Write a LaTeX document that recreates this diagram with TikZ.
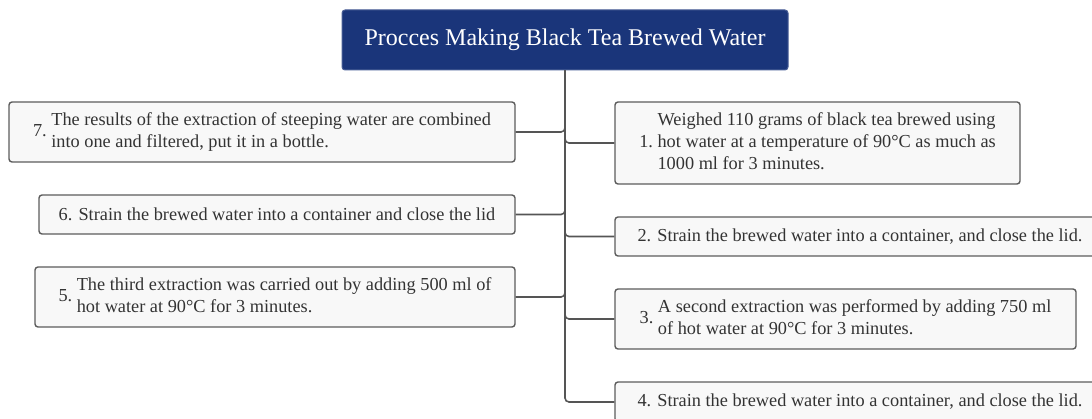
\documentclass[tikz,border=0pt]{standalone}
\usepackage{fontspec}
\setmainfont{Liberation Serif}
\usetikzlibrary{positioning}
\definecolor{titleblue}{HTML}{1A357A}
\definecolor{boxfill}{HTML}{F8F8F8}
\definecolor{boxline}{HTML}{5C5C5C}
\definecolor{linkgray}{HTML}{555555}
\definecolor{textgray}{HTML}{333333}
% number beside a block of lines, centred on it
\newcommand{\numitem}[2]{#1\ \begin{tabular}[c]{@{}l@{}}#2\end{tabular}}
\tikzset{
  titlebox/.style={draw=titleblue!80!white, fill=titleblue, text=white,
    rounded corners=3pt, line width=1pt, font=\fontsize{24}{28}\selectfont,
    minimum height=60, inner sep=0pt},
  stepbox/.style={draw=boxline, fill=boxfill, text=textgray,
    rounded corners=3pt, line width=1.4pt, font=\fontsize{18.3}{22}\selectfont,
    inner sep=0pt, align=left},
  link/.style={draw=linkgray, line width=1.6pt, rounded corners=4pt}
}
\begin{document}
\begin{tikzpicture}[x=1pt, y=-1pt]
    \clip (0,0) rectangle (1092,419);
    % Title
    \node[titlebox, minimum width=446] (title) at (565,40)
        {Procces Making Black Tea Brewed Water};
    % Left side
    \node[stepbox, minimum width=506, minimum height=60] (s7) at (262,132)
        {\numitem{7.}{The results of the extraction of steeping water are combined\\into one and filtered, put it in a bottle.}};
    \node[stepbox, minimum width=476, minimum height=39] (s6) at (277,214.5)
        {6. Strain the brewed water into a container and close the lid};
    \node[stepbox, minimum width=480, minimum height=60] (s5) at (275,297)
        {\numitem{5.}{The third extraction was carried out by adding 500 ml of\\hot water at 90°C for 3 minutes.}};
    % Right side
    \node[stepbox, minimum width=405, minimum height=82] (s1) at (817.5,143)
        {\numitem{1.}{Weighed 110 grams of black tea brewed using\\hot water at a temperature of 90°C as much as\\1000 ml for 3 minutes.}};
    \node[stepbox, minimum width=490, minimum height=39] (s2) at (860,236.5)
        {2. Strain the brewed water into a container, and close the lid.};
    \node[stepbox, minimum width=461, minimum height=60] (s3) at (845.5,319)
        {\numitem{3.}{A second extraction was performed by adding 750 ml\\of hot water at 90°C for 3 minutes.}};
    \node[stepbox, minimum width=490, minimum height=40] (s4) at (860,402)
        {4. Strain the brewed water into a container, and close the lid.};
    % Connectors
    \foreach \s in {s7,s6,s5}
        \draw[link] (title.south) |- (\s.east);
    \foreach \s in {s1,s2,s3,s4}
        \draw[link] (title.south) |- (\s.west);
\end{tikzpicture}
\end{document}
